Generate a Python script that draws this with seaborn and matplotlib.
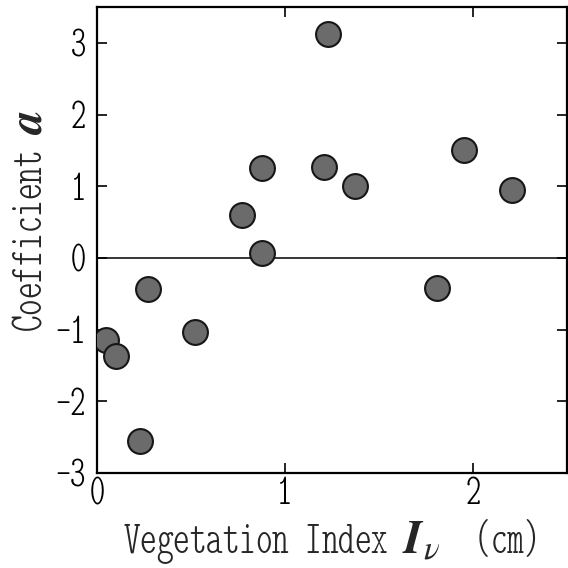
import matplotlib
matplotlib.use("Agg")
import matplotlib.pyplot as plt
import seaborn as sns
import pandas as pd

# values
veg_index = [1.23, 0.88, 1.21, 1.37, 0.77, 0.88, 1.95, 2.21, 1.81, 0.27, 0.52, 0.05, 0.10, 0.23]
coef_a = [3.13, 1.26, 1.27, 1.00, 0.60, 0.07, 1.50, 0.95, -0.42, -0.43, -1.04, -1.15, -1.37, -2.55]
x_ticks = [0, 1, 2]
y_ticks = [-3, -2, -1, 0, 1, 2, 3]

df = pd.DataFrame({"veg": veg_index, "a": coef_a})

sns.set_theme(style="ticks")
plt.rcParams["font.family"] = ["Latin Modern Mono Light Cond", "DejaVu Sans Mono"]
plt.rcParams["mathtext.fontset"] = "stix"
plt.rcParams["axes.unicode_minus"] = False

fig = plt.figure(figsize=(5.68, 5.68), dpi=100)
ax = fig.add_axes([97 / 568, 95 / 568, 470 / 568, 466 / 568])

ax.axhline(0, color="black", linewidth=1.1, zorder=1)
sns.scatterplot(data=df, x="veg", y="a", ax=ax, s=320, color="#6b6b6b",
                edgecolor="#161616", linewidth=1.5, zorder=3, legend=False)

ax.set_xlim(0, 2.5)
ax.set_ylim(-3, 3.5)
ax.set_xticks(x_ticks)
ax.set_yticks(y_ticks)
ax.tick_params(direction="in", top=True, right=True, length=7, width=1.2,
               labelsize=31, colors="black")
ax.tick_params(axis="x", pad=3)
ax.tick_params(axis="y", pad=8)
for sp in ax.spines.values():
    sp.set_linewidth(1.6)
    sp.set_color("black")

ax.set_xlabel(r"Vegetation Index $\mathbfit{I}_{\nu}$  (cm)", fontsize=34)
ax.set_ylabel(r"Coefficient $\mathbfit{a}$", fontsize=34)
ax.xaxis.set_label_coords(0.495, -0.094)
ax.yaxis.set_label_coords(-0.095, 0.54)

fig.savefig("out.png", dpi=100, facecolor="white")
